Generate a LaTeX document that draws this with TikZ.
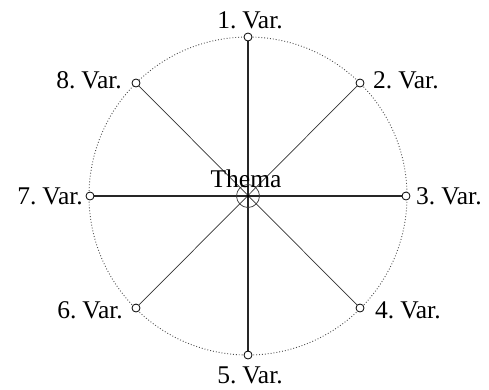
\documentclass[tikz,border=0pt]{standalone}
\usepackage{fontspec}
\setmainfont{Liberation Serif}
\newcommand\lblfont{\fontsize{25.5}{30}\selectfont\spaceskip=0.15em\relax}
\begin{document}
\begin{tikzpicture}[x=1pt,y=-1pt,
  lbl/.style={font=\lblfont, inner sep=0pt},
  endpt/.style={circle, draw=black, fill=white, minimum size=8pt, inner sep=0pt, line width=0.8pt},
  mainline/.style={line width=1.1pt, black!85},
  diagline/.style={line width=0.7pt, black!80}]
\useasboundingbox (0,0) rectangle (489,389);
\coordinate (c) at (248,196);
\draw[dotted, line width=0.9pt, black!70] (c) circle (159);
% spokes
\coordinate (p1) at (248,37);
\coordinate (p2) at (360,83);
\coordinate (p3) at (406,196);
\coordinate (p4) at (360,308);
\coordinate (p5) at (248,355);
\coordinate (p6) at (136,308);
\coordinate (p7) at (90,196);
\coordinate (p8) at (136,83);
\draw[mainline] (p1) -- (p5);
\draw[mainline] (p3) -- (p7);
\draw[diagline] (p2) -- (p6);
\draw[diagline] (p4) -- (p8);
% center symbol
\node[circle, draw=black!80, line width=0.7pt, minimum size=23pt, inner sep=0pt] (ctr) at (c) {};
\fill (c) circle (1.6);
\node[lbl, anchor=base] (thema) at (246,187) {Thema};
% end points
\foreach \i in {1,...,8} {\node[endpt] (e\i) at (p\i) {};}
% labels
\node[lbl, anchor=base] (l1) at (250,28) {1. Var.};
\node[lbl, anchor=base west] (l2) at (373,88) {2. Var.};
\node[lbl, anchor=base west] (l3) at (416,204) {3. Var.};
\node[lbl, anchor=base west] (l4) at (375,318) {4. Var.};
\node[lbl, anchor=base] (l5) at (250,383) {5. Var.};
\node[lbl, anchor=base east] (l6) at (123,318) {6. Var.};
\node[lbl, anchor=base east] (l7) at (83,204) {7. Var.};
\node[lbl, anchor=base east] (l8) at (122,88) {8. Var.};
\end{tikzpicture}
\end{document}
